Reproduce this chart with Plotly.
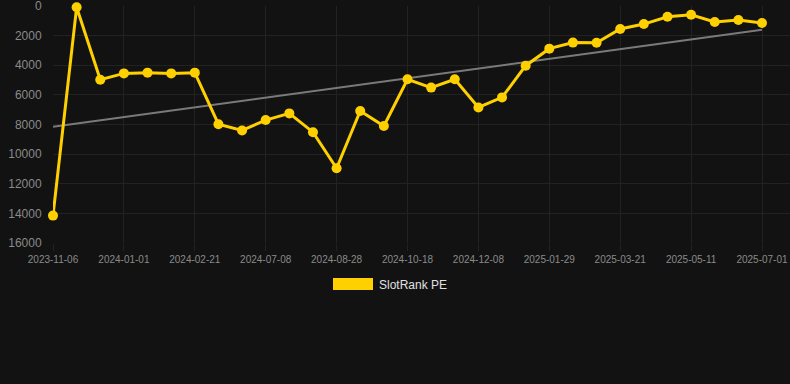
import plotly.graph_objects as go

# ---- data ----
dates = [
    "2023-11-06", "2023-11-25", "2023-12-13", "2024-01-01", "2024-01-18",
    "2024-02-04", "2024-02-21", "2024-05-15", "2024-06-21", "2024-07-08",
    "2024-07-25", "2024-08-11", "2024-08-28", "2024-09-14", "2024-10-01",
    "2024-10-18", "2024-11-04", "2024-11-21", "2024-12-08", "2024-12-25",
    "2025-01-12", "2025-01-29", "2025-02-15", "2025-03-04", "2025-03-21",
    "2025-04-07", "2025-04-24", "2025-05-11", "2025-05-28", "2025-06-14",
    "2025-07-01",
]
rank = [
    14150, 90, 4980, 4550, 4500, 4550, 4500, 7980, 8400, 7700,
    7250, 8520, 10950, 7090, 8100, 4950, 5510, 4950, 6850, 6170,
    4030, 2880, 2470, 2480, 1550, 1220, 730, 590, 1080, 950,
    1150,
]
trend_start = 8150
trend_end = 1600
series_name = "SlotRank PE"
y_ticks = [0, 2000, 4000, 6000, 8000, 10000, 12000, 14000, 16000]

# ---- styling ----
W, H = 790, 384
BG = "#121212"
YELLOW = "#FFD000"
GRID = "#222222"
TICK_TXT = "#8a8a8a"
FONT = "Liberation Sans, Arial, sans-serif"

plot_l, plot_r, plot_t, plot_b = 53, 790, 6, 243

fig = go.Figure()
fig.add_trace(go.Scatter(
    x=[dates[0], dates[-1]], y=[trend_start, trend_end],
    mode="lines", line=dict(color="#7a7a7a", width=2),
    showlegend=False, hoverinfo="skip", cliponaxis=False,
))
fig.add_trace(go.Scatter(
    x=dates, y=rank, mode="lines+markers", name=series_name,
    line=dict(color=YELLOW, width=3),
    marker=dict(color=YELLOW, size=10),
    showlegend=False, cliponaxis=False,
))

n = len(dates)
step_px = (762 - plot_l) / (n - 1)
x_max = (plot_r - plot_l) / step_px

fig.update_layout(
    width=W, height=H,
    paper_bgcolor=BG, plot_bgcolor=BG,
    margin=dict(l=plot_l, r=W - plot_r, t=plot_t, b=H - plot_b),
    font=dict(family=FONT, color=TICK_TXT),
    xaxis=dict(
        type="category", categoryorder="array", categoryarray=dates,
        range=[0, x_max],
        tickmode="array", tickvals=dates[::3], ticktext=dates[::3],
        tickfont=dict(size=10, color=TICK_TXT),
        showgrid=True, gridcolor=GRID, gridwidth=1,
        ticks="outside", ticklen=7, tickcolor=GRID,
        zeroline=False, showline=False,
    ),
    yaxis=dict(
        range=[16000, 0], tickmode="array", tickvals=y_ticks,
        ticktext=[str(v) for v in y_ticks],
        tickfont=dict(size=12, color=TICK_TXT),
        ticklabeloverflow="allow",
        showgrid=True, gridcolor=GRID, gridwidth=1,
        ticks="outside", ticklen=8, tickcolor="rgba(0,0,0,0)",
        zeroline=False, showline=False,
    ),
)

# legend drawn manually (wide colour swatch + label)
pw = plot_r - plot_l
ph = plot_b - plot_t
def px_x(x):
    return (x - plot_l) / pw
def px_y(y):
    return (plot_b - y) / ph

fig.add_shape(type="rect", xref="paper", yref="paper",
              x0=px_x(333), x1=px_x(373), y0=px_y(278), y1=px_y(290),
              fillcolor=YELLOW, line=dict(width=0))
fig.add_annotation(xref="paper", yref="paper", x=px_x(377), y=px_y(284.5),
                   text=series_name, showarrow=False, xanchor="left",
                   yanchor="middle", font=dict(size=12, color="#e0e0e0", family=FONT))

fig.write_html("out.html", config={"displayModeBar": False})
with open("out.html", encoding="utf-8") as f:
    html = f.read()
html = html.replace("<head>", "<head><style>html,body{margin:0;padding:0;background:%s;overflow:hidden;}</style>" % BG, 1)
with open("out.html", "w", encoding="utf-8") as f:
    f.write(html)
